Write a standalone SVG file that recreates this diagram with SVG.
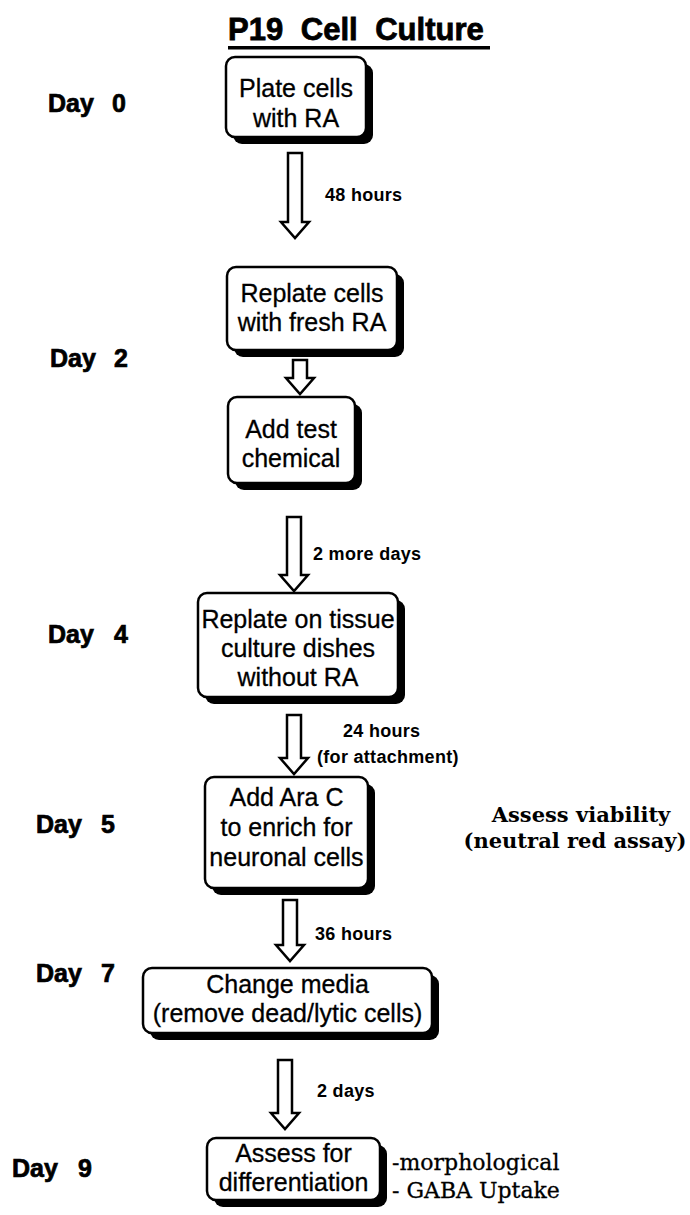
<svg xmlns="http://www.w3.org/2000/svg" width="690" height="1215" viewBox="0 0 690 1215">
<defs>
<style>
.bg{fill:#fff}
.sh{fill:#000}
.bx{fill:#fff;stroke:#000;stroke-width:2.5}
.bt{font-family:"Liberation Sans",Arial,sans-serif;font-size:25px;fill:#000;stroke:#000;stroke-width:0.3;text-anchor:middle}
.day{font-family:"Liberation Sans",Arial,sans-serif;font-size:25px;font-weight:bold;fill:#000;stroke:#000;stroke-width:0.7}
.lbl{font-family:"Liberation Sans",Arial,sans-serif;font-size:18px;font-weight:bold;fill:#000;letter-spacing:0.3px}
.ttl{font-family:"Liberation Sans",Arial,sans-serif;font-size:31px;font-weight:bold;fill:#000;stroke:#000;stroke-width:0.8;word-spacing:9px}
.srb{font-family:"DejaVu Serif","Liberation Serif",serif;font-size:21px;font-weight:bold;fill:#000}
.sr{font-family:"DejaVu Serif","Liberation Serif",serif;font-size:22px;fill:#000;stroke:#000;stroke-width:0.3}
.ar{fill:#fff;stroke:#000;stroke-width:2.5;stroke-linejoin:miter}
</style>
</defs>
<rect class="bg" x="0" y="0" width="690" height="1215"/>
<g id="title">
<text class="ttl" x="228" y="40">P19 Cell Culture</text>
<rect x="228" y="46" width="262" height="3.5" fill="#000"/>
</g>
<g id="days">
<text class="day" x="48" y="112">Day</text><text class="day" x="112" y="112">0</text>
<text class="day" x="50" y="367">Day</text><text class="day" x="114" y="367">2</text>
<text class="day" x="48" y="643">Day</text><text class="day" x="114" y="643">4</text>
<text class="day" x="36" y="833">Day</text><text class="day" x="101" y="833">5</text>
<text class="day" x="36" y="982">Day</text><text class="day" x="101" y="982">7</text>
<text class="day" x="12" y="1177">Day</text><text class="day" x="78" y="1177">9</text>
</g>
<g id="connectors">
<path class="ar" d="M288,153 H302 V222 H309 L295,238 L281,222 H288 Z"/>
<path class="ar" d="M293,360 H307 V378 H314 L300,394 L286,378 H293 Z"/>
<path class="ar" d="M287,517 H301 V575 H308 L294,591 L280,575 H287 Z"/>
<path class="ar" d="M287,715 H301 V758 H308 L294,774 L280,758 H287 Z"/>
<path class="ar" d="M283,900 H297 V945 H304 L290,961 L276,945 H283 Z"/>
<path class="ar" d="M278,1060 H292 V1113 H299 L285,1129 L271,1113 H278 Z"/>
<text class="lbl" x="325" y="201">48 hours</text>
<text class="lbl" x="313" y="560">2 more days</text>
<text class="lbl" x="343" y="737">24 hours</text>
<text class="lbl" x="317" y="763">(for attachment)</text>
<text class="lbl" x="315" y="940">36 hours</text>
<text class="lbl" x="317" y="1097">2 days</text>
</g>
<g id="n1">
<rect class="sh" x="233" y="64" width="140" height="80" rx="9"/>
<rect class="bx" x="226" y="57" width="140" height="80" rx="9"/>
<text class="bt" x="296" y="97">Plate cells</text>
<text class="bt" x="296" y="127">with RA</text>
</g>
<g id="n2">
<rect class="sh" x="234" y="274" width="170" height="83" rx="9"/>
<rect class="bx" x="227" y="267" width="170" height="83" rx="9"/>
<text class="bt" x="312" y="302">Replate cells</text>
<text class="bt" x="312" y="331">with fresh RA</text>
</g>
<g id="n3">
<rect class="sh" x="235" y="404" width="127" height="86" rx="9"/>
<rect class="bx" x="228" y="397" width="127" height="86" rx="9"/>
<text class="bt" x="291" y="438">Add test</text>
<text class="bt" x="291" y="467">chemical</text>
</g>
<g id="n4">
<rect class="sh" x="205" y="600" width="200" height="104" rx="9"/>
<rect class="bx" x="198" y="593" width="200" height="104" rx="9"/>
<text class="bt" x="298" y="628">Replate on tissue</text>
<text class="bt" x="298" y="657">culture dishes</text>
<text class="bt" x="298" y="686">without RA</text>
</g>
<g id="n5">
<rect class="sh" x="212" y="784" width="163" height="111" rx="9"/>
<rect class="bx" x="205" y="777" width="163" height="111" rx="9"/>
<text class="bt" x="286.5" y="806">Add Ara C</text>
<text class="bt" x="286.5" y="836">to enrich for</text>
<text class="bt" x="286.5" y="866">neuronal cells</text>
</g>
<g id="viability">
<text class="srb" x="581" y="822" text-anchor="middle">Assess viability</text>
<text class="srb" x="575" y="848" text-anchor="middle">(neutral red assay)</text>
</g>
<g id="n6">
<rect class="sh" x="150" y="975" width="289" height="65" rx="9"/>
<rect class="bx" x="143" y="968" width="289" height="65" rx="9"/>
<text class="bt" x="287.5" y="993">Change media</text>
<text class="bt" x="287.5" y="1022">(remove dead/lytic cells)</text>
</g>
<g id="n7">
<rect class="sh" x="214" y="1145" width="173" height="62" rx="9"/>
<rect class="bx" x="207" y="1138" width="173" height="62" rx="9"/>
<text class="bt" x="293.5" y="1162">Assess for</text>
<text class="bt" x="293.5" y="1191">differentiation</text>
</g>
<g id="outcomes">
<text class="sr" x="392" y="1170">-morphological</text>
<text class="sr" x="392" y="1198">- GABA Uptake</text>
</g>
</svg>
